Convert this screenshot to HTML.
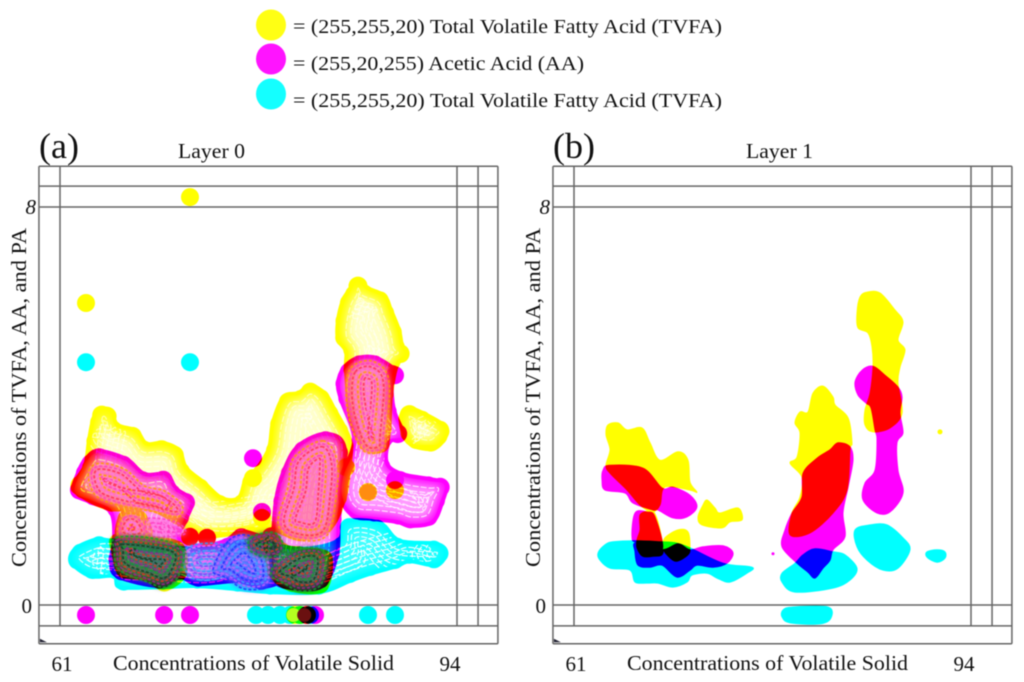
<!DOCTYPE html>
<html lang="en">
<head>
<meta charset="utf-8">
<title>Layer 0 and Layer 1 concentration maps</title>
<style>
html,body{margin:0;padding:0;background:#fff;width:1024px;height:682px;overflow:hidden}
svg{display:block;position:absolute;left:0;top:0;filter:blur(.45px)}
text{font-family:"Liberation Serif",serif;fill:#111}
.blend{mix-blend-mode:multiply}
</style>
</head>
<body>
<svg id="chart" xmlns="http://www.w3.org/2000/svg" width="1024" height="682" viewBox="0 0 1024 682">
  <defs>
    <filter id="soft" x="-20%" y="-20%" width="140%" height="140%"><feGaussianBlur stdDeviation="5"/></filter>
    <filter id="softer" x="-20%" y="-20%" width="140%" height="140%"><feGaussianBlur stdDeviation="2.5"/></filter>
  </defs>
  <rect x="0" y="0" width="1024" height="682" fill="#fff"/>
  <g>
    <g>
      <ellipse cx="271" cy="25" rx="15" ry="15.5" fill="#ffff14"/>
      <text x="293" y="33" font-size="20" textLength="429" lengthAdjust="spacingAndGlyphs">= (255,255,20) Total Volatile Fatty Acid (TVFA)</text>
    </g>
    <g>
      <ellipse cx="271" cy="59" rx="15" ry="15.5" fill="#ff14ff"/>
      <text x="293" y="70" font-size="20" textLength="291" lengthAdjust="spacingAndGlyphs">= (255,20,255)  Acetic Acid (AA)</text>
    </g>
    <g>
      <ellipse cx="271" cy="94" rx="15" ry="15.5" fill="#14ffff"/>
      <text x="293" y="107" font-size="20" textLength="429" lengthAdjust="spacingAndGlyphs">= (255,255,20) Total Volatile Fatty Acid (TVFA)</text>
    </g>
  </g>
  <g id="panelA"></g>
  <g id="panelB"></g>
</svg>
<script>
// ---------- axis values ----------
const xTicks = [61, 94];
const yTicks = [0, 8];
const xGuides = [59.25, 61, 94, 95.75, 97.4];
const yGuides = [8.82, 8.42, 8, 0, -0.42, -0.78];

// ---------- Layer 0 : yellow (TVFA), [volatile solid, concentration] ----------
const a_yellowValley = [[64.16,3.96],[65.32,3.92],[65.82,3.64],[67.40,3.52],[68.23,3.26],[69.56,3.28],[70.98,3.12],[71.56,2.77],[73.05,2.47],[74.47,2.17],[75.80,2.17],[76.38,2.55],[77.29,2.75],[78.29,3.16],[78.62,3.68],[79.54,4.20],[80.78,4.28],[81.78,4.44],[83.11,4.26],[83.94,3.92],[84.77,3.56],[85.27,3.22],[85.11,2.71],[84.69,2.11],[83.44,1.51],[80.95,1.31],[78.46,1.51],[76.38,1.45],[73.88,1.37],[71.81,1.47],[68.48,1.91],[65.16,1.91],[62.50,2.21],[62.00,2.41],[63.00,2.81],[63.33,3.32],[63.66,3.72]];
const a_yellowTop = [[85.69,6.57],[86.60,6.39],[88.02,6.23],[88.60,5.93],[89.26,5.53],[89.51,5.23],[89.93,5.03],[89.10,4.82],[88.60,4.22],[88.43,3.52],[88.02,3.12],[86.35,3.12],[85.11,3.72],[84.69,4.72],[84.69,5.09],[84.03,5.33],[84.03,5.73],[84.44,6.13],[84.94,6.33]];
const a_yellowRight = [[89.84,3.98],[91.34,3.86],[93.17,3.58],[93.00,3.32],[92.00,3.12],[90.34,3.18],[89.51,3.38],[89.26,3.78]];
const a_yellowStalk = [[66.15,1.85],[67.90,1.85],[68.48,1.37],[65.82,1.37]];
const a_yellowLowLeft = [[65.41,1.37],[68.48,1.37],[71.14,1.21],[71.39,0.60],[69.73,0.30],[68.07,0.50],[65.99,0.60],[65.41,1.01]];
const a_yellowLowMid = [[76.38,1.41],[78.46,1.51],[79.70,1.21],[80.95,1.15],[83.44,1.01],[83.03,0.30],[80.12,0.30],[78.46,0.60],[77.79,1.21]];
const a_yellowDots = [[71.81,8.20],[63.16,6.07],[84.77,2.77],[86.60,2.27],[88.85,2.31],[77.79,1.75],[71.81,1.37],[73.22,1.35],[77.04,2.55],[80.53,-0.20],[80.95,-0.20],[81.53,-0.20]];

// ---------- Layer 0 : magenta (AA) ----------
const a_magentaLeft = [[64.16,3.12],[66.57,2.95],[68.07,2.65],[69.89,2.65],[70.73,2.35],[72.06,2.11],[71.56,1.71],[70.98,1.35],[72.64,1.21],[74.72,1.31],[75.96,1.51],[77.79,1.41],[78.87,1.51],[79.70,0.60],[77.87,0.34],[75.71,0.46],[72.39,0.40],[70.98,0.54],[69.31,0.36],[65.74,0.56],[65.16,0.90],[65.41,1.31],[65.16,1.85],[63.49,2.05],[62.00,2.25],[62.50,2.71],[63.08,2.95]];
const a_magentaTall = [[83.19,3.46],[80.78,3.22],[79.54,2.71],[78.87,2.11],[78.62,1.31],[78.62,0.50],[80.95,0.30],[83.03,0.40],[84.11,1.01],[84.28,1.71],[84.77,3.12]];
const a_magentaRight = [[85.69,4.98],[87.35,4.98],[89.26,4.66],[88.68,4.46],[88.85,3.92],[89.68,3.38],[88.43,3.26],[88.27,2.85],[89.51,2.65],[91.76,2.55],[93.17,2.45],[92.84,2.05],[92.00,1.65],[90.09,1.57],[89.01,1.65],[87.02,1.71],[85.36,1.77],[84.28,2.11],[84.28,2.57],[85.36,3.32],[84.28,4.12],[84.03,4.46],[84.52,4.78]];
const a_magentaDots = [[63.16,-0.20],[69.65,-0.20],[71.81,-0.20],[77.04,2.95],[88.85,4.62],[88.85,2.51],[77.79,1.87],[81.53,-0.20],[82.20,-0.20],[71.81,1.37],[73.22,1.35]];

// ---------- Layer 0 : cyan ----------
const a_cyanBand = [[64.16,1.35],[65.41,1.31],[72.64,1.15],[76.79,1.31],[80.95,1.15],[84.03,1.31],[84.69,1.69],[87.60,1.67],[89.26,1.31],[92.34,1.25],[93.17,1.05],[92.34,0.78],[90.09,0.86],[89.01,0.76],[86.94,0.62],[85.27,0.48],[82.61,0.24],[78.46,0.24],[75.71,0.30],[72.39,0.36],[69.56,0.34],[65.99,0.34],[65.41,0.56],[63.49,0.56],[61.83,0.86],[62.25,1.15]];
const a_cyanDots = [[63.16,4.88],[71.81,4.88],[77.29,-0.20],[78.29,-0.20],[79.29,-0.20],[80.12,-0.20],[80.95,-0.20],[81.78,-0.20],[86.60,-0.20],[88.85,-0.20]];

// ---------- Layer 0 : mixed-density regions ----------
const a_mixLeft = [[63.33,2.71],[64.33,2.87],[66.40,2.75],[68.07,2.41],[69.73,2.31],[71.22,2.01],[70.81,1.75],[68.48,1.87],[66.40,1.95],[64.33,2.11],[63.49,2.35]];
const a_mixStalk = [[66.15,1.81],[67.65,1.81],[68.23,1.37],[65.82,1.37]];
const a_mixCentre = [[82.86,3.32],[84.11,2.91],[84.03,2.17],[83.19,1.37],[80.37,1.31],[79.04,1.65],[79.87,2.37],[80.37,2.97]];
const a_mixRight = [[85.11,4.78],[87.02,4.92],[88.43,4.52],[88.18,3.38],[87.85,3.08],[86.19,3.08],[85.11,3.62],[84.69,4.22]];
const a_mixUnder = [[68.23,1.75],[70.81,1.67],[71.39,1.41],[68.48,1.37]];
const a_bandMid = [[71.39,1.15],[74.72,1.21],[74.97,0.60],[71.81,0.54]];
const a_darkLeft = [[65.57,1.37],[68.48,1.37],[71.22,1.15],[70.98,0.60],[69.73,0.34],[68.07,0.46],[65.82,0.70],[65.41,1.11]];
const a_darkTop = [[76.79,1.37],[78.87,1.47],[79.70,1.11],[78.46,0.94],[76.79,1.07]];
const a_darkMid = [[79.12,0.90],[80.95,1.15],[83.03,1.07],[82.78,0.40],[80.95,0.26],[79.70,0.40],[78.46,0.60]];
const a_blueCloud = [[74.97,1.31],[76.79,1.41],[78.46,1.01],[78.46,0.40],[76.38,0.30],[74.72,0.54],[73.64,0.70]];
const a_orangeDots = [[86.60,2.27]];
const a_limeDots = [[80.40,-0.20]];
const a_maroonDots = [[81.30,-0.20]];

// ---------- Layer 1 : yellow ----------
const b_yellowUpper = [[63.83,3.62],[64.66,3.66],[65.41,3.52],[66.65,3.56],[67.32,3.26],[68.15,2.91],[69.65,3.08],[70.48,2.91],[70.64,2.47],[71.22,2.27],[70.64,2.31],[68.56,2.37],[68.15,2.01],[67.48,1.87],[66.49,2.01],[65.41,2.31],[63.99,2.65],[63.66,2.81],[63.99,3.12],[63.66,3.42]];
const b_yellowStem = [[67.15,1.89],[67.65,1.87],[68.15,1.51],[68.40,1.05],[67.60,0.98],[66.70,0.98],[66.24,1.15],[66.24,1.31],[66.49,1.51],[66.49,1.81]];
const b_yellowKnob = [[68.56,1.35],[69.65,1.51],[70.48,1.47],[70.64,1.17],[70.48,1.01],[69.48,0.88],[68.73,1.01],[68.40,1.15]];
const b_yellowSide = [[72.06,2.11],[72.72,1.95],[73.14,1.85],[74.63,1.95],[74.97,1.71],[73.97,1.67],[73.30,1.55],[71.64,1.61],[71.31,1.77],[71.72,2.01]];
const b_yellowRight = [[85.36,6.29],[86.44,6.27],[87.68,5.93],[88.35,5.69],[87.93,5.33],[88.51,5.13],[88.10,4.78],[87.93,4.46],[88.27,3.86],[87.27,3.56],[85.85,3.48],[85.19,3.62],[85.19,3.92],[85.61,4.26],[85.85,4.78],[85.77,5.19],[85.44,5.47],[84.61,5.57],[84.52,5.87],[84.77,6.19]];
const b_yellowMid = [[81.70,4.40],[82.53,4.18],[82.70,4.02],[83.78,3.76],[84.11,3.26],[83.94,3.12],[83.69,2.31],[82.53,1.85],[80.62,1.45],[78.96,1.41],[79.12,1.85],[79.79,2.17],[79.95,2.57],[78.96,2.85],[79.54,2.97],[79.79,3.46],[79.37,3.66],[79.79,3.88],[80.45,3.88],[80.87,4.26]];
const b_yellowSpeck = [[91.42,3.48]];

// ---------- Layer 1 : magenta ----------
const b_magentaUpper = [[63.41,2.71],[63.99,2.81],[66.74,2.75],[68.32,2.35],[69.23,2.37],[70.64,2.21],[71.22,1.97],[70.39,1.77],[69.23,1.75],[67.98,1.91],[67.57,1.91],[65.90,2.05],[65.24,2.25],[63.58,2.31],[63.33,2.51]];
const b_magentaStem = [[67.07,1.87],[67.73,1.77],[68.32,1.11],[66.24,1.25],[65.82,1.37],[66.07,1.85]];
const b_magentaBand = [[68.32,1.11],[69.65,1.23],[70.64,1.11],[71.72,1.17],[73.39,1.19],[74.22,1.05],[73.72,0.84],[72.55,0.76],[71.22,0.80],[70.64,0.70],[69.56,0.56],[68.32,0.80],[67.32,0.76],[66.32,0.80],[66.07,1.07],[66.15,1.25]];
const b_magentaRight = [[85.85,4.80],[86.85,4.62],[87.93,4.38],[88.27,4.18],[88.10,3.86],[88.35,3.46],[87.85,3.26],[87.93,2.71],[88.35,2.25],[87.27,1.87],[86.19,1.85],[85.02,2.11],[85.19,2.45],[86.02,2.71],[86.19,3.32],[86.02,3.52],[85.69,3.96],[85.27,4.06],[84.61,4.22],[84.36,4.48],[84.94,4.72]];
const b_magentaMid = [[82.95,3.26],[83.94,3.18],[84.19,2.91],[83.78,2.37],[83.36,1.85],[83.53,1.37],[82.53,1.11],[82.28,0.90],[81.70,0.74],[81.03,0.54],[80.45,0.66],[79.54,0.84],[78.29,1.17],[78.54,1.51],[79.12,1.85],[79.95,2.17],[80.04,2.65],[81.20,2.95],[82.28,3.12]];
const b_magentaSpeck = [[77.54,1.03]];

// ---------- Layer 1 : cyan ----------
const b_cyanBand = [[64.24,1.27],[66.07,1.29],[68.32,1.27],[69.40,1.25],[70.64,1.15],[73.39,0.84],[75.80,0.76],[75.38,0.64],[73.97,0.46],[72.89,0.54],[72.06,0.64],[70.81,0.60],[70.39,0.46],[69.23,0.36],[67.98,0.44],[67.07,0.44],[66.07,0.46],[65.66,0.70],[63.99,0.74],[63.16,0.90],[63.00,1.05],[63.58,1.21]];
const b_cyanMid = [[79.37,0.84],[80.04,1.01],[81.03,1.13],[82.53,1.07],[83.53,1.01],[84.52,0.74],[83.94,0.50],[82.53,0.34],[79.37,0.26],[78.29,0.46],[78.29,0.64]];
const b_cyanRight = [[85.61,1.61],[87.02,1.61],[88.35,1.35],[88.93,1.11],[87.93,0.74],[86.69,0.70],[85.36,0.90],[84.52,1.17],[84.36,1.51]];
const b_cyanSmall = [[90.34,1.07],[91.17,1.11],[91.84,1.07],[91.84,0.94],[91.17,0.86],[90.34,0.96]];
const b_cyanBottom = [[78.37,-0.10],[79.20,-0.04],[82.11,-0.04],[82.36,-0.26],[81.45,-0.38],[78.96,-0.36],[78.29,-0.24]];

// ---------- scales ----------
const NS = 'http://www.w3.org/2000/svg';
function xScale(v, origin) { return origin + (v - xTicks[0]) * 397 / (xTicks[1] - xTicks[0]); }
function yScale(v) { return 605 - (v - yTicks[0]) * 398 / (yTicks[1] - yTicks[0]); }
function toPixels(data, origin) { return data.map(function (d) { return [xScale(d[0], origin), yScale(d[1])]; }); }
function make(tag, parent, attrs) {
  const el = document.createElementNS(NS, tag);
  Object.keys(attrs).forEach(function (k) { el.setAttribute(k, attrs[k]); });
  parent.appendChild(el);
  return el;
}
function inset(pts, d) {
  let area = 0;
  pts.forEach(function (p, i) { const q = pts[(i + 1) % pts.length]; area += p[0] * q[1] - q[0] * p[1]; });
  const s = area > 0 ? 1 : -1;
  return pts.map(function (p, i) {
    const a = pts[(i - 1 + pts.length) % pts.length], b = pts[(i + 1) % pts.length];
    const l1 = Math.hypot(p[0] - a[0], p[1] - a[1]) || 1, l2 = Math.hypot(b[0] - p[0], b[1] - p[1]) || 1;
    let dx = (p[0] - a[0]) / l1 + (b[0] - p[0]) / l2, dy = (p[1] - a[1]) / l1 + (b[1] - p[1]) / l2;
    const l = Math.hypot(dx, dy) || 1;
    dx /= l; dy /= l;
    return [p[0] - s * dy * d, p[1] + s * dx * d];
  });
}
function smoothPath(pts) {
  const n = pts.length;
  let d = 'M' + pts[0][0].toFixed(1) + ' ' + pts[0][1].toFixed(1);
  for (let i = 0; i < n; i++) {
    const p0 = pts[(i - 1 + n) % n], p1 = pts[i], p2 = pts[(i + 1) % n], p3 = pts[(i + 2) % n];
    d += 'C' + (p1[0] + (p2[0] - p0[0]) / 6).toFixed(1) + ' ' + (p1[1] + (p2[1] - p0[1]) / 6).toFixed(1) + ' ' +
         (p2[0] - (p3[0] - p1[0]) / 6).toFixed(1) + ' ' + (p2[1] - (p3[1] - p1[1]) / 6).toFixed(1) + ' ' +
         p2[0].toFixed(1) + ' ' + p2[1].toFixed(1);
  }
  return d + 'Z';
}
let clipCount = 0;
function addClip(pts) {
  clipCount += 1;
  const cp = make('clipPath', document.querySelector('#chart defs'), { id: 'clip' + clipCount });
  make('path', cp, { d: smoothPath(pts) });
  return 'url(#clip' + clipCount + ')';
}

// ---------- Layer 0 marks: scalloped clusters with pale core and contour rings ----------
function drawCluster(group, data, origin, color, edge, paleness, ringOpacity) {
  const pts = toPixels(data, origin);
  const el = make('g', group, {});
  
  
  make('path', el, { d: smoothPath(pts), fill: color, stroke: color, 'stroke-width': 2, 'stroke-linejoin': 'round' });
  inset(pts, 8).forEach(function (p) {
    make('circle', el, { cx: p[0].toFixed(1), cy: p[1].toFixed(1), r: 9.5, fill: color });
  });
  const inner = make('g', el, { 'clip-path': addClip(inset(pts, 3)) });
  make('path', inner, { d: smoothPath(inset(pts, edge)), fill: '#fff', opacity: paleness, filter: 'url(#soft)' });
  [10, 15, 20, 25, 30, 35].forEach(function (d) {
    make('path', inner, { d: smoothPath(inset(pts, d)), fill: 'none', stroke: '#fff', 'stroke-width': 1.1, 'stroke-dasharray': '6 2', opacity: ringOpacity });
  });
}
function drawDots(group, data, origin, color, r) {
  data.forEach(function (d) {
    const c = make('circle', group, { cx: xScale(d[0], origin).toFixed(1), cy: yScale(d[1]).toFixed(1), r: r, fill: color });
    
    
  });
}
function drawTexture(parent, data, origin, base, opacity, colors) {
  const pts = toPixels(data, origin);
  const el = make('g', parent, {});
  
  
  make('path', el, { d: smoothPath(pts), fill: base, opacity: opacity, filter: 'url(#softer)' });
  const inner = make('g', el, { 'clip-path': addClip(pts) });
  [1, 4, 7, 10, 13, 16, 19, 22].forEach(function (d, i) {
    make('path', inner, { d: smoothPath(inset(pts, d)), fill: 'none', stroke: colors[i % colors.length], 'stroke-width': 1.7, 'stroke-dasharray': '3 2', opacity: 0.85 });
  });
}

// ---------- Layer 1 marks: flat blobs ----------
function drawBlob(group, data, origin, color) {
  const p = make('path', group, { d: smoothPath(toPixels(data, origin)), fill: color, stroke: color, 'stroke-width': 1, 'stroke-linejoin': 'round' });
  
  
}

// ---------- frame + labels ----------
function drawAxes(panel, origin, layerName, tag, titleOffset) {
  const left = xScale(xGuides[0], origin), right = xScale(xGuides[4], origin);
  const top = yScale(yGuides[0]), bottom = yScale(yGuides[5]);
  yGuides.forEach(function (v) {
    const l = make('line', panel, { x1: left, x2: right, y1: yScale(v), y2: yScale(v), stroke: '#666', 'stroke-width': 1.5 });
    
    
  });
  xGuides.forEach(function (v, i) {
    const isFrame = i === 0 || i === xGuides.length - 1;
    const l = make('line', panel, { x1: xScale(v, origin), x2: xScale(v, origin), y1: top, y2: isFrame ? bottom : yScale(yGuides[4]), stroke: '#666', 'stroke-width': 1.5 });
    
    
  });
  const mark = make('polygon', panel, { points: [left + 1, bottom - 5, left + 8, bottom - 1.5, left + 1, bottom - 1.5].join(' '), fill: '#223' });
  
  

  const tagEl = make('text', panel, { x: origin - 21, y: 158, 'font-size': 36 });
  tagEl.textContent = tag;
  
  

  const title = make('text', panel, { x: origin + titleOffset, y: 158, 'font-size': 21, textLength: 67, lengthAdjust: 'spacingAndGlyphs' });
  title.textContent = layerName;
  
  

  xTicks.forEach(function (t) {
    const e = make('text', panel, { x: xScale(t, origin), y: 671, 'font-size': 21, 'text-anchor': 'middle', dx: t === xTicks[0] ? 2 : -7 });
    e.textContent = t;
    
    
  });
  yTicks.forEach(function (t) {
    const italic = t === yTicks[1];
    const e = make('text', panel, { x: origin - (italic ? 24 : 28), y: yScale(t) + (italic ? 7 : 8), 'font-size': 21, 'text-anchor': 'end', 'font-style': italic ? 'italic' : 'normal' });
    e.textContent = t;
    
    
  });
  const xt = make('text', panel, { x: origin + 53, y: 670, 'font-size': 21, textLength: 281, lengthAdjust: 'spacingAndGlyphs' });
  xt.textContent = 'Concentrations of Volatile Solid';
  
  
  const yt = make('text', panel, { x: 0, y: 0, 'font-size': 21, textLength: 339, lengthAdjust: 'spacingAndGlyphs', transform: 'translate(' + (origin - 34) + ',567) rotate(-90)' });
  yt.textContent = 'Concentrations of TVFA, AA, and PA';
  
  
}

function layerGroup(parent, name) {
  const g = make('g', parent, { class: 'blend' });
  
  
  return g;
}

// ---------- Panel (a) ----------
const panelA = document.getElementById('panelA');
const originA = 60;
drawAxes(panelA, originA, 'Layer 0', '(a)', 118);
const aY = layerGroup(panelA, 'series-yellow-tvfa');
[a_yellowValley, a_yellowTop, a_yellowRight, a_yellowStalk, a_yellowLowLeft, a_yellowLowMid].forEach(function (c) { drawCluster(aY, c, originA, '#ffff00', 10, 0.8, 0.6); });
drawDots(aY, a_yellowDots, originA, '#ffff00', 9);
const aM = layerGroup(panelA, 'series-magenta-aa');
[a_magentaLeft, a_magentaTall, a_magentaRight].forEach(function (c) { drawCluster(aM, c, originA, '#ff00ff', 7, 0.6, 0.8); });
drawDots(aM, a_magentaDots, originA, '#ff00ff', 9);
const aC = layerGroup(panelA, 'series-cyan-tvfa');
drawCluster(aC, a_cyanBand, originA, '#00ffff', 8, 0.25, 0.95);
drawDots(aC, a_cyanDots, originA, '#00ffff', 9);
const warm = ['#ff9a00', '#ff40c0', '#ff3050', '#ff70e8'];
[a_mixLeft, a_mixStalk, a_mixCentre, a_mixRight].forEach(function (c) { drawTexture(panelA, c, originA, '#ff70a8', 0.75, warm); });
drawTexture(panelA, a_mixUnder, originA, '#ff60d0', 0.6, ['#ff40c0', '#ff80e0']);
drawTexture(panelA, a_bandMid, originA, '#c070f0', 0.55, ['#30a0ff', '#ff60ff', '#8040ff']);
drawTexture(panelA, a_blueCloud, originA, '#6060ff', 0.7, ['#2030ff', '#c060ff', '#40a0ff']);
const dark = ['#12a030', '#a02090', '#e03020', '#104020'];
[a_darkLeft, a_darkTop, a_darkMid].forEach(function (c) { drawTexture(panelA, c, originA, '#3a5a40', 0.75, dark); });
drawDots(panelA, a_orangeDots, originA, '#ff8c10', 8);
drawDots(panelA, a_limeDots, originA, '#b4ff20', 7);
drawDots(panelA, a_maroonDots, originA, '#6a1010', 7);

// ---------- Panel (b) ----------
const panelB = document.getElementById('panelB');
const originB = 574;
drawAxes(panelB, originB, 'Layer 1', '(b)', 172);
const bY = layerGroup(panelB, 'series-yellow-tvfa-layer-1');
[b_yellowUpper, b_yellowStem, b_yellowKnob, b_yellowSide, b_yellowRight, b_yellowMid].forEach(function (c) { drawBlob(bY, c, originB, '#ffff00'); });
drawDots(bY, b_yellowSpeck, originB, '#ffff00', 2.5);
const bM = layerGroup(panelB, 'series-magenta-aa-layer-1');
[b_magentaUpper, b_magentaStem, b_magentaBand, b_magentaRight, b_magentaMid].forEach(function (c) { drawBlob(bM, c, originB, '#ff00ff'); });
drawDots(bM, b_magentaSpeck, originB, '#ff00ff', 1.5);
const bC = layerGroup(panelB, 'series-cyan-tvfa-layer-1');
[b_cyanBand, b_cyanMid, b_cyanRight, b_cyanSmall, b_cyanBottom].forEach(function (c) { drawBlob(bC, c, originB, '#00ffff'); });
</script>
</body>
</html>
